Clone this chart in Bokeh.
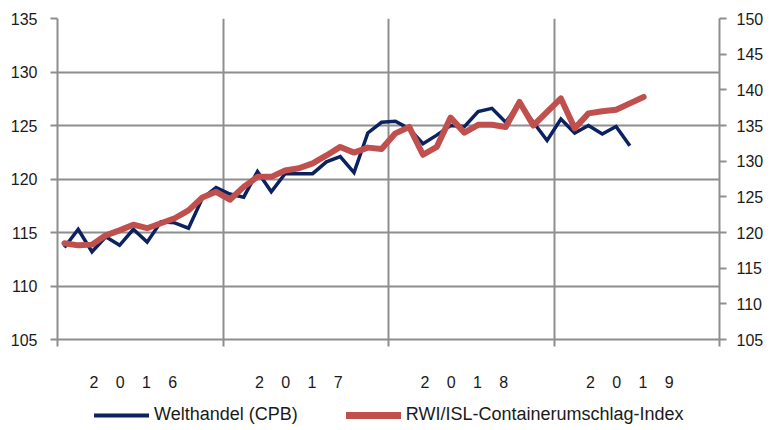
from bokeh.plotting import figure
from bokeh.layouts import column
from bokeh.models import (Range1d, LinearAxis, FixedTicker, Legend, LegendItem,
                          ColumnDataSource)
from bokeh.embed import file_html
from bokeh.resources import INLINE

# ---- data (monthly, Jan 2016 onwards) ----
years = ["2016", "2017", "2018", "2019"]
welthandel = [113.6, 115.3, 113.2, 114.6, 113.8, 115.3, 114.1, 116.0, 115.9, 115.4, 118.2, 119.2,
              118.6, 118.3, 120.7, 118.8, 120.5, 120.5, 120.5, 121.6, 122.1, 120.6, 124.3, 125.3,
              125.4, 124.7, 123.3, 124.1, 125.0, 124.9, 126.3, 126.6, 125.3, 127.1, 125.3, 123.6,
              125.6, 124.3, 125.0, 124.2, 124.9, 123.1]
container = [118.5, 118.2, 118.3, 119.6, 120.3, 121.1, 120.6, 121.3, 122.0, 123.1, 124.9, 125.7,
             124.6, 126.4, 127.8, 127.8, 128.7, 129.0, 129.7, 130.8, 132.0, 131.2, 131.9, 131.7,
             133.9, 134.8, 130.9, 132.0, 136.1, 134.0, 135.1, 135.1, 134.8, 138.3, 135.0, 136.9,
             138.8, 134.6, 136.7, 137.0, 137.2, 138.1, 139.0]
left_ticks = [105, 110, 115, 120, 125, 130, 135]
right_ticks = [105, 110, 115, 120, 125, 130, 135, 140, 145, 150]
series_names = ["Welthandel (CPB)", "RWI/ISL-Containerumschlag-Index"]

n_months = 12 * len(years)
x_w = [i + 0.5 for i in range(len(welthandel))]
x_c = [i + 0.5 for i in range(len(container))]

FONT = "Liberation Sans"
GRID = "#8e8e8e"
TXT = "#1a1a1a"
NAVY = "#0b2160"
RED = "#c0504d"

W_TOTAL = 57 + 662 + 45

p = figure(frame_width=662, frame_height=321,
           x_range=Range1d(0, n_months), y_range=Range1d(105, 135),
           output_backend="svg", toolbar_location=None,
           min_border_left=57, min_border_right=45, min_border_top=18,
           min_border_bottom=54)
p.outline_line_color = None
p.background_fill_color = "white"
p.border_fill_color = "white"

p.extra_y_ranges = {"right": Range1d(105, 150)}

# x axis: year labels centered in year, minor ticks at year boundaries
p.xaxis.ticker = FixedTicker(ticks=[12 * k + 5.5 for k in range(len(years))],
                             minor_ticks=[12 * k for k in range(len(years) + 1)])
p.xaxis.major_label_overrides = {12 * k + 5.5: "\u2003\u200a".join(list(y)) for k, y in enumerate(years)}
p.xaxis.major_tick_line_color = None
p.xaxis.minor_tick_in = 0
p.xaxis.minor_tick_out = 7
p.xaxis.minor_tick_line_color = GRID
p.xaxis.minor_tick_line_width = 2
p.xaxis.axis_line_color = GRID
p.xaxis.axis_line_width = 2
p.xaxis.major_label_standoff = 27
p.xaxis.major_label_text_font = FONT
p.xaxis.major_label_text_font_size = "16px"
p.xaxis.major_label_text_color = TXT

# left axis
p.yaxis.ticker = FixedTicker(ticks=left_ticks)
p.yaxis.minor_tick_line_color = None
p.yaxis.major_tick_in = 0
p.yaxis.major_tick_out = 7
p.yaxis.major_tick_line_color = GRID
p.yaxis.major_tick_line_width = 2
p.yaxis.axis_line_color = GRID
p.yaxis.axis_line_width = 2
p.yaxis.major_label_standoff = 13
p.yaxis.major_label_text_font = FONT
p.yaxis.major_label_text_font_size = "16px"
p.yaxis.major_label_text_color = TXT

# right axis
ra = LinearAxis(y_range_name="right", ticker=FixedTicker(ticks=right_ticks))
ra.minor_tick_line_color = None
ra.major_tick_in = 0
ra.major_tick_out = 7
ra.major_tick_line_color = GRID
ra.major_tick_line_width = 2
ra.axis_line_color = GRID
ra.axis_line_width = 2
ra.major_label_standoff = 10
ra.major_label_text_font = FONT
ra.major_label_text_font_size = "16px"
ra.major_label_text_color = TXT
p.add_layout(ra, "right")

# grids
p.xgrid.ticker = FixedTicker(ticks=[12 * k for k in range(len(years) + 1)])
p.xgrid.grid_line_color = GRID
p.xgrid.grid_line_width = 2
p.ygrid.ticker = FixedTicker(ticks=left_ticks)
p.ygrid.grid_line_color = GRID
p.ygrid.grid_line_width = 2

src_w = ColumnDataSource(dict(x=x_w, y=welthandel))
src_c = ColumnDataSource(dict(x=x_c, y=container))
p.line("x", "y", source=src_w, line_color=NAVY, line_width=3.5, line_join="miter")
p.line("x", "y", source=src_c, y_range_name="right", line_color=RED,
       line_width=6, line_join="round", line_cap="round")

# ---- legend strip (separate figure below the chart; frames are aligned) ----
lg = figure(width=W_TOTAL, height=34, x_range=Range1d(0, 1), y_range=Range1d(0, 1),
            output_backend="svg", toolbar_location=None,
            min_border_left=0, min_border_right=0, min_border_top=0, min_border_bottom=0)
lg.axis.visible = False
lg.grid.visible = False
lg.outline_line_color = None
# legend-only renderers, placed outside the visible range
lw = lg.line([5, 6], [5, 6], line_color=NAVY, line_width=4, line_cap="round")
lc = lg.line([5, 6], [5, 6], line_color=RED, line_width=7, line_cap="round")
legend = Legend(items=[LegendItem(label=series_names[0], renderers=[lw]),
                       LegendItem(label=series_names[1], renderers=[lc])],
                orientation="horizontal", location=(37, 2),
                border_line_color=None, background_fill_alpha=0,
                label_text_font=FONT, label_text_font_size="18px",
                label_text_color=TXT, glyph_width=55, glyph_height=20,
                spacing=48, padding=2, margin=0, label_standoff=5)
lg.add_layout(legend, "center")

open("out.html", "w").write(file_html(column(p, lg, spacing=0), INLINE))
